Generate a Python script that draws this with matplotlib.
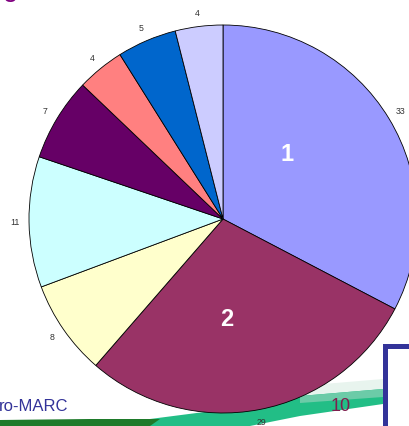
import matplotlib
matplotlib.use('Agg')
import matplotlib.pyplot as plt
from matplotlib.patches import Polygon, Rectangle
import numpy as np

# slice values, clockwise from 12 o'clock
values = [33, 29, 8, 11, 7, 4, 5, 4]
colors = ['#9999FF', '#993366', '#FFFFCC', '#CCFFFF', '#660066', '#FF8080', '#0066CC', '#CCCCFF']
value_labels = [str(v) for v in values]
# big white numbers inside the two largest slices: (text, angle deg, radius fraction)
inner_labels = [('1', 45, 0.47), ('2', -88, 0.52)]

W, H = 410, 426
CX, CY, R = 223, H - 219, 194

fig = plt.figure(figsize=(W / 100, H / 100), dpi=100)
ax = fig.add_axes([0, 0, 1, 1])


def poly(points, color, z):
    ax.add_patch(Polygon([(x, H - y) for x, y in points], closed=True,
                         facecolor=color, edgecolor='none', zorder=z))


# green swoosh at the bottom of the slide (drawn in pixel coords from top)
poly([(220, 402), (300, 386), (383, 379), (383, 391), (300, 397), (220, 411)], '#E8F4EE', 1)
poly([(0, 421), (150, 419), (220, 410), (300, 396), (383, 389),
      (383, 404), (300, 416), (250, 426), (0, 426)], '#22BE86', 1.1)
poly([(300, 396), (383, 389), (383, 397), (300, 403)], '#6CCBA8', 1.2)
poly([(0, 420), (90, 419), (160, 419), (150, 426), (0, 426)], '#1E7A2A', 1.3)

wedges, texts = ax.pie(values, colors=colors, labels=value_labels, startangle=90,
                       counterclock=False, center=(CX, CY), radius=R, frame=True,
                       labeldistance=1.07,
                       wedgeprops=dict(edgecolor='black', linewidth=0.6, zorder=2),
                       textprops=dict(fontsize=6.3, color='#333333', family='Liberation Sans'))
for t in texts:
    t.set_ha('center')
    t.set_va('center')
ax.set_xlim(0, W)
ax.set_ylim(0, H)
ax.set_aspect('auto')
ax.axis('off')

for txt, ang, rf in inner_labels:
    a = np.deg2rad(ang)
    ax.text(CX + rf * R * np.cos(a), CY + rf * R * np.sin(a), txt, color='white',
            fontsize=17, fontweight='bold', family='Liberation Sans',
            ha='center', va='center', zorder=5)

# slide furniture
ax.text(3, H + 4, 'g', color='#800080', fontsize=20, family='Liberation Sans',
        ha='left', va='baseline', zorder=5, clip_on=True)
ax.text(-1, H - 411, 'ro-MARC', color='#333399', fontsize=12, family='Liberation Sans',
        ha='left', va='baseline', zorder=5)
ax.text(341, H - 411, '10', color='#7F1F4F', fontsize=13, family='Liberation Sans',
        ha='center', va='baseline', zorder=5)
ax.add_patch(Rectangle((385.5, -10), 100, H - 345.5 + 10, facecolor='white',
                       edgecolor='#333399', linewidth=3.6, zorder=4))

fig.savefig('out.png', dpi=100)
